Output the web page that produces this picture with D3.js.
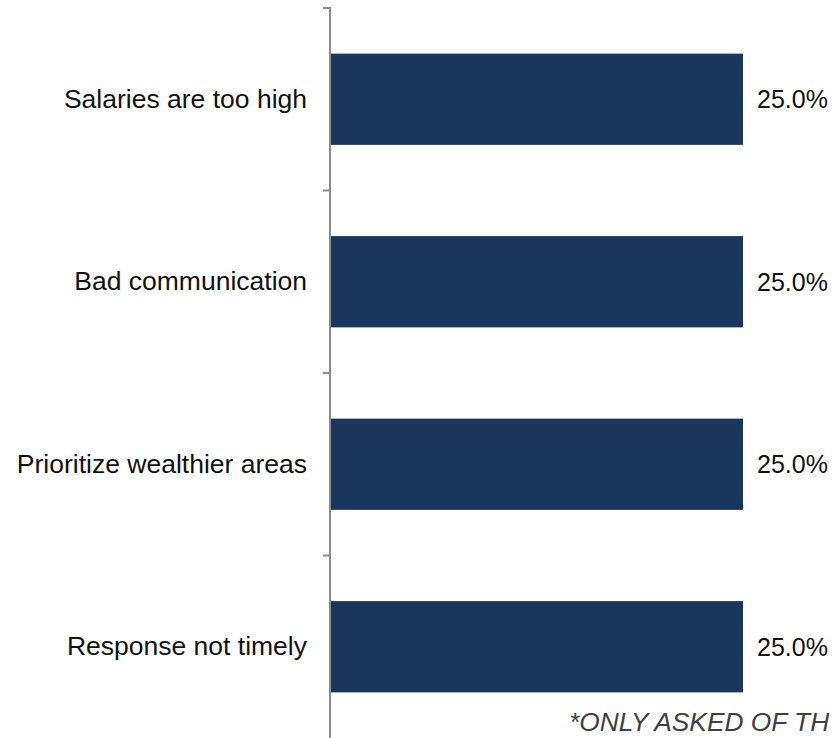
<!DOCTYPE html>
<html>
<head>
<meta charset="utf-8">
<script src="https://cdn.jsdelivr.net/npm/d3@7"></script>
<style>
  html, body { margin: 0; padding: 0; background: #fff; overflow: hidden; }
  svg { display: block; font-family: Arial, "Liberation Sans", sans-serif; }
</style>
</head>
<body>
<svg id="chart" width="836" height="738"></svg>
<script>
const categories = ["Salaries are too high", "Bad communication", "Prioritize wealthier areas", "Response not timely"];
const values = [25.0, 25.0, 25.0, 25.0];
const valueLabels = ["25.0%", "25.0%", "25.0%", "25.0%"];
const footnote = "*ONLY ASKED OF TH";

const svg = d3.select("#chart");
const W = 836, H = 738;
const axisX = 331;

const y = d3.scaleBand().domain(categories).range([8, 738]).paddingInner(0.5).paddingOuter(0.25);
const x = d3.scaleLinear().domain([0, 25]).range([axisX, 743]);

// bars
svg.append("g").selectAll("rect").data(categories).join("rect")
  .attr("x", axisX)
  .attr("y", d => y(d))
  .attr("width", (d, i) => x(values[i]) - axisX)
  .attr("height", y.bandwidth())
  .attr("fill", "#1b365d");

// axis line and ticks at band boundaries
const step = y.step();
const boundaries = d3.range(categories.length + 1).map(i => 8 + i * step);
const ax = svg.append("g").attr("stroke", "#8c8c8c").attr("stroke-width", 2);
ax.append("line").attr("x1", axisX - 1).attr("x2", axisX - 1).attr("y1", 7).attr("y2", H);
ax.selectAll("line.tick").data(boundaries.slice(0, categories.length)).join("line")
  .attr("class", "tick")
  .attr("x1", axisX - 8).attr("x2", axisX - 1)
  .attr("y1", d => d).attr("y2", d => d);

// category labels
svg.append("g").selectAll("text").data(categories).join("text")
  .attr("x", axisX - 24)
  .attr("y", d => y(d) + y.bandwidth() / 2)
  .attr("dy", "0.33em")
  .attr("text-anchor", "end")
  .attr("font-size", 26.5)
  .attr("fill", "#111")
  .text(d => d);

// value labels
svg.append("g").selectAll("text").data(categories).join("text")
  .attr("x", (d, i) => x(values[i]) + 14)
  .attr("y", d => y(d) + y.bandwidth() / 2)
  .attr("dy", "0.35em")
  .attr("font-size", 25)
  .attr("fill", "#111")
  .text((d, i) => valueLabels[i]);

// footnote
svg.append("text")
  .attr("x", 569)
  .attr("y", 731)
  .attr("font-size", 26.3)
  .attr("font-style", "italic")
  .attr("fill", "#404040")
  .text(footnote);
</script>
</body>
</html>
